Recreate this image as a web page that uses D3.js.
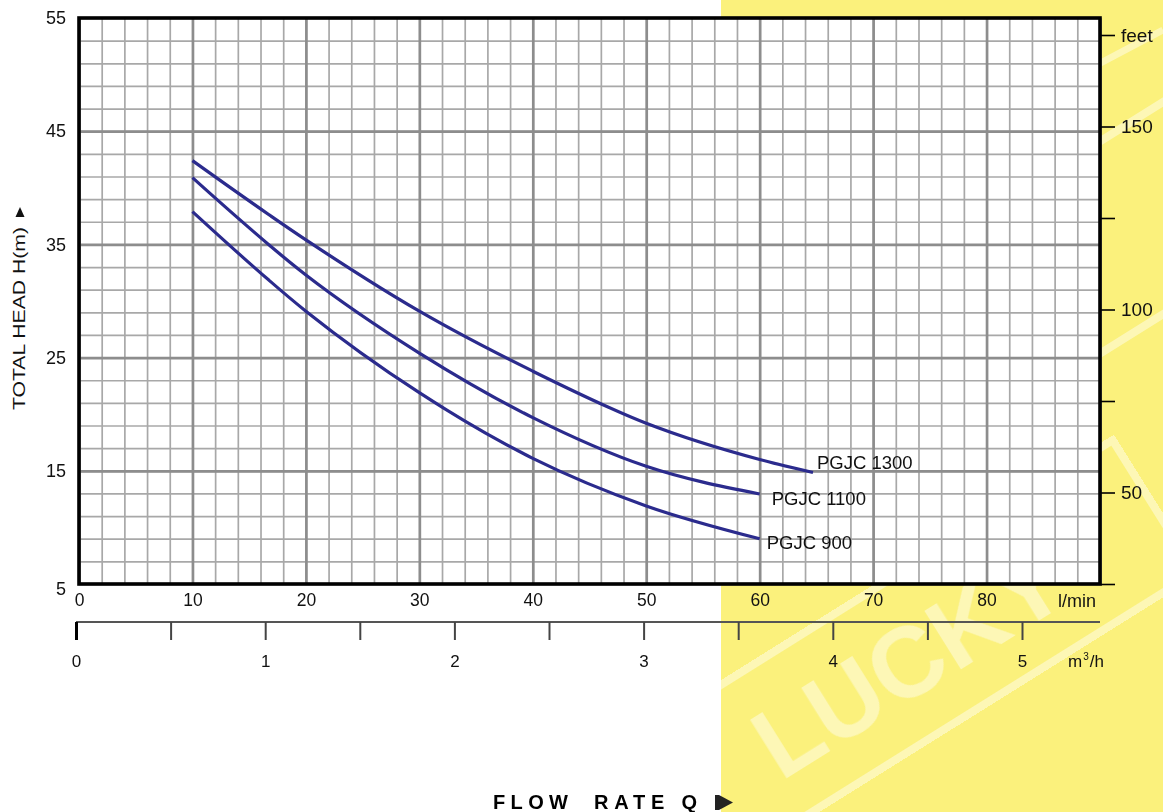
<!DOCTYPE html>
<html><head><meta charset="utf-8">
<script src="https://cdn.jsdelivr.net/npm/d3@7"></script>
<style>
html,body{margin:0;padding:0;background:#fff;}
svg{display:block;font-family:"Liberation Sans",Arial,Helvetica,sans-serif;}
</style></head><body>
<svg id="chart" width="1163" height="812"></svg>
<script>
// ---- data ----
const flow1300 = [10, 20, 30, 40, 50, 60, 64.7];
const head1300 = [42.4, 35.4, 29.1, 23.8, 19.2, 16.0, 14.85];
const flow1100 = [10, 20, 30, 40, 50, 60];
const head1100 = [40.9, 32.3, 25.4, 19.7, 15.4, 12.95];
const flow900  = [10, 20, 30, 40, 50, 60];
const head900  = [37.9, 29.1, 21.9, 16.1, 11.9, 9.0];
const seriesNames = ["PGJC 1300", "PGJC 1100", "PGJC 900"];
const flowTicks = [0, 10, 20, 30, 40, 50, 60, 70, 80];
const headTicks = [5, 15, 25, 35, 45, 55];
const feetTicks = [25, 50, 75, 100, 125, 150, 175];
const feetLabels = ["", "50", "", "100", "", "150", "feet"];
const m3Ticks = [0, 0.5, 1, 1.5, 2, 2.5, 3, 3.5, 4, 4.5, 5];
const m3Labels = ["0", "", "1", "", "2", "", "3", "", "4", "", "5"];

// ---- layout ----
const svg = d3.select("#chart");
const FONT = "Liberation Sans, Arial, sans-serif";
const L = 79, R = 1100, T = 18, B = 584;
const x = d3.scaleLinear([0, 90], [L, R]);
const y = d3.scaleLinear([5, 55], [B, T]);
const yFeet = d3.scaleLinear([25, 175], [B, 35]);
const xM3 = d3.scaleLinear([0, 5], [76, 1022]);

// yellow background panel with faint watermark
svg.append("rect").attr("x", 721).attr("y", 0).attr("width", 442).attr("height", 812).attr("fill", "#fbf17c");
const wm = svg.append("g").attr("opacity", 0.45);
const wm1 = wm.append("g").attr("transform", "translate(908,660) rotate(-32)");
wm1.append("text").attr("x", 0).attr("y", 36).attr("text-anchor", "middle")
  .attr("font-size", 100).attr("font-weight", "bold").attr("fill", "#fff").text("LUCKY");
wm1.append("rect").attr("x", -290).attr("y", -78).attr("width", 580).attr("height", 156)
  .attr("fill", "none").attr("stroke", "#fff").attr("stroke-width", 8);
const wm2 = wm.append("g").attr("transform", "translate(1080,260) rotate(-32)");
wm2.append("rect").attr("x", -150).attr("y", -90).attr("width", 420).attr("height", 180)
  .attr("fill", "none").attr("stroke", "#fff").attr("stroke-width", 8);
wm.append("line").attr("x1", 1040).attr("y1", 95).attr("x2", 1163).attr("y2", 30)
  .attr("stroke", "#fff").attr("stroke-width", 7);

// plot background
svg.append("rect").attr("x", L).attr("y", T).attr("width", R - L).attr("height", B - T).attr("fill", "#fff");

// grid via axes
function gridV(values, color, w) {
  const g = svg.append("g").attr("transform", `translate(0,${B})`)
    .call(d3.axisBottom(x).tickValues(values).tickSize(-(B - T)).tickFormat(""));
  g.select(".domain").remove();
  g.selectAll("line").attr("stroke", color).attr("stroke-width", w);
}
function gridH(values, color, w) {
  const g = svg.append("g").attr("transform", `translate(${L},0)`)
    .call(d3.axisLeft(y).tickValues(values).tickSize(-(R - L)).tickFormat(""));
  g.select(".domain").remove();
  g.selectAll("line").attr("stroke", color).attr("stroke-width", w);
}
gridV(d3.range(0, 91, 2), "#a8a8a8", 1.7);
gridH(d3.range(5, 56, 2), "#a8a8a8", 1.7);
gridV(d3.range(0, 91, 10), "#8d8d8d", 2.7);
gridH([15, 25, 35, 45], "#8d8d8d", 2.7);

// border
svg.append("rect").attr("x", L).attr("y", T).attr("width", R - L).attr("height", B - T)
  .attr("fill", "none").attr("stroke", "#000").attr("stroke-width", 3.6);

// left axis labels
const ax = svg.append("g").attr("transform", `translate(${L},0)`)
  .call(d3.axisLeft(y).tickValues(headTicks).tickSize(0).tickPadding(13));
ax.select(".domain").remove();
ax.selectAll("text").attr("font-size", 18).attr("fill", "#111").attr("font-family", FONT);
ax.selectAll("g.tick").filter(d => d === 5).select("text").attr("dy", "0.6em");

// bottom l/min labels
const bx = svg.append("g").attr("transform", `translate(0,${B})`)
  .call(d3.axisBottom(x).tickValues(flowTicks).tickSize(0).tickPadding(10));
bx.select(".domain").remove();
bx.selectAll("text").attr("font-size", 17.5).attr("fill", "#111").attr("font-family", FONT);
svg.append("text").attr("x", 1096).attr("y", 607).attr("text-anchor", "end")
  .attr("font-size", 18).attr("fill", "#111").text("l/min");

// right feet axis
const rx = svg.append("g").attr("transform", `translate(${R + 1},0)`)
  .call(d3.axisRight(yFeet).tickValues(feetTicks).tickSize(14).tickPadding(6)
    .tickFormat((d, i) => feetLabels[i]));
rx.select(".domain").remove();
rx.selectAll("line").attr("stroke", "#000").attr("stroke-width", 1.6);
rx.selectAll("text").attr("font-size", 19).attr("fill", "#111").attr("font-family", FONT);

// secondary m3/h axis
svg.append("line").attr("x1", xM3(0)).attr("x2", x(90)).attr("y1", 622).attr("y2", 622)
  .attr("stroke", "#555").attr("stroke-width", 2);
const mx = svg.append("g").attr("transform", "translate(0,622)")
  .call(d3.axisBottom(xM3).tickValues(m3Ticks).tickSize(18).tickPadding(15)
    .tickFormat((d, i) => m3Labels[i]));
mx.select(".domain").remove();
mx.selectAll("line").attr("stroke", "#444").attr("stroke-width", 2);
mx.selectAll("g.tick").filter(d => d === 0).select("line").attr("stroke", "#000").attr("stroke-width", 3);
mx.selectAll("text").attr("font-size", 17).attr("fill", "#111").attr("font-family", FONT);
const unit = svg.append("text").attr("x", 1068).attr("y", 667).attr("font-size", 17).attr("fill", "#111");
unit.append("tspan").text("m");
unit.append("tspan").attr("dx", 1).attr("dy", -7).attr("font-size", 10).text("3");
unit.append("tspan").attr("dx", 1).attr("dy", 7).text("/h");

// curves
const series = [
  {name: seriesNames[0], q: flow1300, h: head1300, dx: 4, dy: -10},
  {name: seriesNames[1], q: flow1100, h: head1100, dx: 12, dy: 4},
  {name: seriesNames[2], q: flow900, h: head900, dx: 7, dy: 4}
];
const line = d3.line().x(d => x(d[0])).y(d => y(d[1])).curve(d3.curveMonotoneX);
series.forEach(s => {
  const pts = s.q.map((q, i) => [q, s.h[i]]);
  svg.append("path").datum(pts).attr("d", line)
    .attr("fill", "none").attr("stroke", "#2b2b8d").attr("stroke-width", 3.2).attr("stroke-linecap", "butt");
  const last = pts[pts.length - 1];
  svg.append("text").attr("x", x(last[0]) + s.dx).attr("y", y(last[1]) + s.dy)
    .attr("dy", "0.36em").attr("font-size", 18.5).attr("fill", "#111").text(s.name);
});

// y title
svg.append("text").attr("transform", "translate(25,410) rotate(-90)")
  .attr("font-size", 16.5).attr("fill", "#111")
  .attr("textLength", 183).attr("lengthAdjust", "spacingAndGlyphs")
  .text("TOTAL HEAD H(m)");
svg.append("path").attr("d", "M20,207 L15.5,217 L24.5,217 Z").attr("fill", "#111");

// flow rate title
svg.append("text").attr("x", 493).attr("y", 809).attr("font-size", 20).attr("font-weight", "bold")
  .attr("fill", "#000").attr("textLength", 75).attr("lengthAdjust", "spacing").text("FLOW");
svg.append("text").attr("x", 594).attr("y", 809).attr("font-size", 20).attr("font-weight", "bold")
  .attr("fill", "#000").attr("textLength", 103).attr("lengthAdjust", "spacing").text("RATE Q");
svg.append("rect").attr("x", 715).attr("y", 795).attr("width", 4).attr("height", 15).attr("fill", "#222");
svg.append("path").attr("d", "M719,795 L733,802.5 L719,810 Z").attr("fill", "#222");
</script>
</body></html>
